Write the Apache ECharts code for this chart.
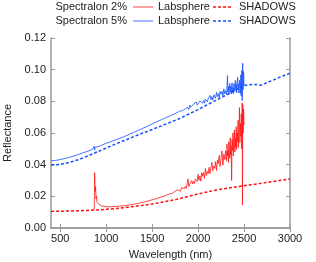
<!DOCTYPE html>
<html><head><meta charset="utf-8">
<script src="https://cdn.jsdelivr.net/npm/echarts@6/dist/echarts.min.js"></script>
<style>html,body{margin:0;padding:0;background:#fff}#c{width:316px;height:262px}</style>
</head><body><div id="c"></div>
<script>
// ---- data ----
const xTicks = [500, 1000, 1500, 2000, 2500, 3000];

// Spectralon 5% Labsphere (blue solid) [wavelength nm, reflectance]
const lab5 = [[400,0.0424],[450,0.0427],[500,0.0432],[550,0.0439],[600,0.0446],[650,0.0455],[700,0.0465],[750,0.0475],[800,0.0485],[850,0.0496],[865,0.0500],[870,0.0516],[875,0.0491],[880,0.0509],[890,0.0505],[900,0.0510],[950,0.0522],[1000,0.0535],[1050,0.0545],[1100,0.0556],[1150,0.0567],[1200,0.0578],[1250,0.0591],[1300,0.0604],[1350,0.0617],[1400,0.0630],[1450,0.0643],[1500,0.0657],[1550,0.0670],[1600,0.0684],[1650,0.0697],[1700,0.0710],[1750,0.0722],
[1800,0.0738],[1810,0.0734],[1820,0.0748],[1830,0.0741],[1840,0.0750],[1850,0.0739],[1860,0.0752],[1870,0.0763],[1880,0.0750],[1890,0.0762],[1900,0.0749],[1910,0.0776],[1920,0.0763],[1930,0.0774],[1940,0.0759],[1950,0.0782],[1960,0.0777],[1970,0.0770],[1980,0.0796],[1990,0.0777],
[2000,0.0789],[2010,0.0774],[2020,0.0802],[2030,0.0791],[2040,0.0813],[2050,0.0789],[2060,0.0806],[2070,0.0788],[2080,0.0814],[2090,0.0823],[2100,0.0798],[2110,0.0816],[2120,0.0809],[2130,0.0838],[2140,0.0810],[2150,0.0830],[2160,0.0808],[2170,0.0841],[2180,0.0836],[2190,0.0819],
[2200,0.0857],[2210,0.0830],[2220,0.0849],[2230,0.0823],[2240,0.0863],[2250,0.0845],[2260,0.0863],[2270,0.0835],[2280,0.0879],[2290,0.0847],[2300,0.0867],
[2305,0.0878],[2310,0.0844],[2315,0.0901],[2320,0.0962],[2325,0.0858],[2330,0.0894],[2335,0.0842],[2340,0.0882],[2345,0.0913],[2350,0.0859],[2355,0.0895],[2360,0.0846],[2365,0.0890],[2370,0.0917],[2375,0.0858],[2380,0.0886],[2385,0.0848],[2390,0.0912],[2395,0.0888],[2400,0.0861],
[2405,0.0932],[2410,0.0878],[2415,0.0910],[2420,0.0853],[2425,0.0922],[2430,0.0953],[2435,0.0874],[2440,0.0911],[2445,0.0852],[2450,0.0933],[2455,0.0904],[2460,0.0850],[2465,0.0967],[2470,0.0833],[2475,0.0994],[2480,0.0805],[2485,0.1041],[2490,0.0873],[2495,0.0989],[2500,0.0900]];

// Spectralon 5% SHADOWS (blue dotted)
const sh5 = [[400,0.0398],[500,0.0402],[600,0.0414],[700,0.0432],[800,0.0455],[900,0.0480],[1000,0.0505],[1100,0.0530],[1200,0.0553],[1300,0.0577],[1400,0.0600],[1500,0.0622],[1600,0.0645],[1700,0.0668],[1800,0.0692],[1900,0.0720],[2000,0.0748],[2100,0.0778],[2200,0.0808],[2300,0.0838],[2400,0.0868],[2500,0.0900],[2550,0.0905],[2600,0.0907],[2650,0.0906],[2680,0.0902],[2700,0.0910],[2800,0.0930],[2900,0.0955],[3000,0.0978]];

// Spectralon 2% Labsphere (red solid)
const lab2 = [[870,0.0115],[875,0.0350],[880,0.0230],[885,0.0260],[890,0.0185],[895,0.0200],[900,0.0165],[910,0.0170],[920,0.0150],[930,0.0148],[940,0.0142],[950,0.0140],[970,0.0137],[1000,0.0134],[1050,0.0134],[1100,0.0136],[1150,0.0138],[1200,0.0141],[1250,0.0145],[1300,0.0150],[1350,0.0156],[1400,0.0163],[1450,0.0170],[1500,0.0178],[1550,0.0186],
[1600,0.0197],[1610,0.0194],[1620,0.0204],[1630,0.0200],[1640,0.0207],[1650,0.0200],[1660,0.0208],[1670,0.0214],[1680,0.0209],[1690,0.0216],[1700,0.0211],[1710,0.0224],[1720,0.0219],[1730,0.0225],[1740,0.0219],[1750,0.0232],[1760,0.0230],[1770,0.0229],[1780,0.0242],[1790,0.0235],
[1800,0.0242],[1810,0.0232],[1820,0.0255],[1830,0.0249],[1840,0.0267],[1850,0.0248],[1860,0.0263],[1870,0.0250],[1880,0.0272],[1890,0.0310],[1900,0.0262],[1910,0.0278],[1920,0.0275],[1930,0.0299],[1940,0.0278],[1950,0.0296],[1960,0.0281],[1970,0.0309],[1980,0.0305],[1990,0.0294],
[2000,0.0340],[2010,0.0301],[2020,0.0328],[2030,0.0296],[2040,0.0349],[2050,0.0326],[2060,0.0351],[2070,0.0313],[2080,0.0376],[2090,0.0332],[2100,0.0358],[2110,0.0343],[2120,0.0383],[2130,0.0344],[2140,0.0381],[2150,0.0414],[2160,0.0362],[2170,0.0391],[2180,0.0377],[2190,0.0419],
[2200,0.0363],[2210,0.0428],[2220,0.0406],[2230,0.0458],[2240,0.0389],[2250,0.0439],[2260,0.0487],[2270,0.0397],[2280,0.0467],[2290,0.0433],[2300,0.0488],
[2305,0.0470],[2310,0.0425],[2315,0.0530],[2320,0.0455],[2325,0.0490],[2330,0.0415],[2335,0.0545],[2340,0.0480],[2345,0.0440],[2350,0.0570],[2355,0.0460],[2360,0.0520],[2365,0.0300],[2370,0.0560],[2375,0.0490],[2380,0.0600],[2385,0.0455],[2390,0.0535],[2395,0.0620],[2400,0.0480],
[2405,0.0570],[2410,0.0510],[2415,0.0640],[2420,0.0495],[2425,0.0600],[2430,0.0545],[2435,0.0680],[2440,0.0510],[2445,0.0620],[2450,0.0760],[2455,0.0540],[2460,0.0660],[2465,0.0580],[2470,0.0720],[2475,0.0500],[2480,0.0790],[2483,0.0145],[2486,0.0780],[2490,0.0600],[2495,0.0750],[2500,0.0650]];

// Spectralon 2% SHADOWS (red dotted)
const sh2 = [[400,0.0105],[500,0.0106],[600,0.0107],[700,0.0109],[800,0.0111],[900,0.0114],[1000,0.0118],[1100,0.0123],[1200,0.0129],[1300,0.0136],[1400,0.0143],[1500,0.0151],[1600,0.0162],[1700,0.0173],[1800,0.0185],[1900,0.0200],[2000,0.0215],[2100,0.0228],[2200,0.0240],[2300,0.0250],[2400,0.0259],[2500,0.0267],[2600,0.0275],[2700,0.0284],[2800,0.0292],[2900,0.0301],[3000,0.0310]];

const RED = '#ff1010', BLUE = '#1650ff';
const RED_L = 'rgba(255,20,20,0.8)', BLUE_L = 'rgba(22,80,255,0.8)';
const FONT = 'Liberation Sans';
const AX = '#9a9a9a';
const DASH = [3, 2];

const chart = echarts.init(document.getElementById('c'), null, {renderer: 'canvas'});

const xBase = {
  type: 'value', min: 400, max: 3000, interval: 100,
  axisLine: {show: true, lineStyle: {color: AX, width: 1.5}},
  axisTick: {show: true, inside: true, length: 4, customValues: xTicks, lineStyle: {color: AX}},
  splitLine: {show: false}
};
const yBase = {
  type: 'value', min: 0, max: 0.12, interval: 0.02,
  axisLine: {show: true, lineStyle: {color: AX, width: 1.5}},
  axisTick: {show: true, inside: true, length: 4, lineStyle: {color: AX}},
  splitLine: {show: false}
};

chart.setOption({
  animation: false,
  grid: {left: 51, right: 26, top: 38, bottom: 34, containLabel: false, outerBoundsMode: 'none'},
  xAxis: [
    Object.assign({}, xBase, {position: 'bottom',
      name: 'Wavelength (nm)', nameLocation: 'middle', nameGap: 21,
      nameTextStyle: {fontFamily: FONT, fontSize: 11, color: '#222'},
      axisLabel: {customValues: xTicks, formatter: v => String(v), fontFamily: FONT, fontSize: 11, color: '#222', margin: 5}}),
    Object.assign({}, xBase, {position: 'top', axisLabel: {show: false}})
  ],
  yAxis: [
    Object.assign({}, yBase, {position: 'left',
      name: 'Reflectance', nameLocation: 'middle', nameGap: 31, nameRotate: 90,
      nameTextStyle: {fontFamily: FONT, fontSize: 11, color: '#222'},
      axisLabel: {formatter: v => v.toFixed(2), fontFamily: FONT, fontSize: 11, color: '#222', margin: 5}}),
    Object.assign({}, yBase, {position: 'right', axisLabel: {show: false}})
  ],
  series: [
    {name: '2% SHADOWS', type: 'line', data: sh2, showSymbol: false, symbol: 'none',
      lineStyle: {color: RED, width: 1.5, type: DASH}, z: 2},
    {name: '5% SHADOWS', type: 'line', data: sh5, showSymbol: false, symbol: 'none',
      lineStyle: {color: BLUE, width: 1.5, type: DASH}, z: 2},
    {name: '2% Labsphere', type: 'line', data: lab2, showSymbol: false, symbol: 'none',
      lineStyle: {color: RED_L, width: 1}, z: 3},
    {name: '5% Labsphere', type: 'line', data: lab5, showSymbol: false, symbol: 'none',
      lineStyle: {color: BLUE_L, width: 1}, z: 3}
  ],
  graphic: [
    {type: 'text', x: 127, y: 7, style: {text: 'Spectralon 2%', font: '11px "Liberation Sans"', fill: '#222', align: 'right', verticalAlign: 'middle'}},
    {type: 'line', shape: {x1: 133, y1: 7, x2: 153, y2: 7}, style: {stroke: RED_L, lineWidth: 1}},
    {type: 'text', x: 158, y: 7, style: {text: 'Labsphere', font: '11px "Liberation Sans"', fill: '#222', verticalAlign: 'middle'}},
    {type: 'line', shape: {x1: 213, y1: 7, x2: 233, y2: 7}, style: {stroke: RED, lineWidth: 1.5, lineDash: DASH}},
    {type: 'text', x: 239, y: 7, style: {text: 'SHADOWS', font: '11px "Liberation Sans"', fill: '#222', verticalAlign: 'middle'}},
    {type: 'text', x: 127, y: 21, style: {text: 'Spectralon 5%', font: '11px "Liberation Sans"', fill: '#222', align: 'right', verticalAlign: 'middle'}},
    {type: 'line', shape: {x1: 133, y1: 21, x2: 153, y2: 21}, style: {stroke: BLUE_L, lineWidth: 1}},
    {type: 'text', x: 158, y: 21, style: {text: 'Labsphere', font: '11px "Liberation Sans"', fill: '#222', verticalAlign: 'middle'}},
    {type: 'line', shape: {x1: 213, y1: 21, x2: 233, y2: 21}, style: {stroke: BLUE, lineWidth: 1.5, lineDash: DASH}},
    {type: 'text', x: 239, y: 21, style: {text: 'SHADOWS', font: '11px "Liberation Sans"', fill: '#222', verticalAlign: 'middle'}}
  ]
});
</script></body></html>
